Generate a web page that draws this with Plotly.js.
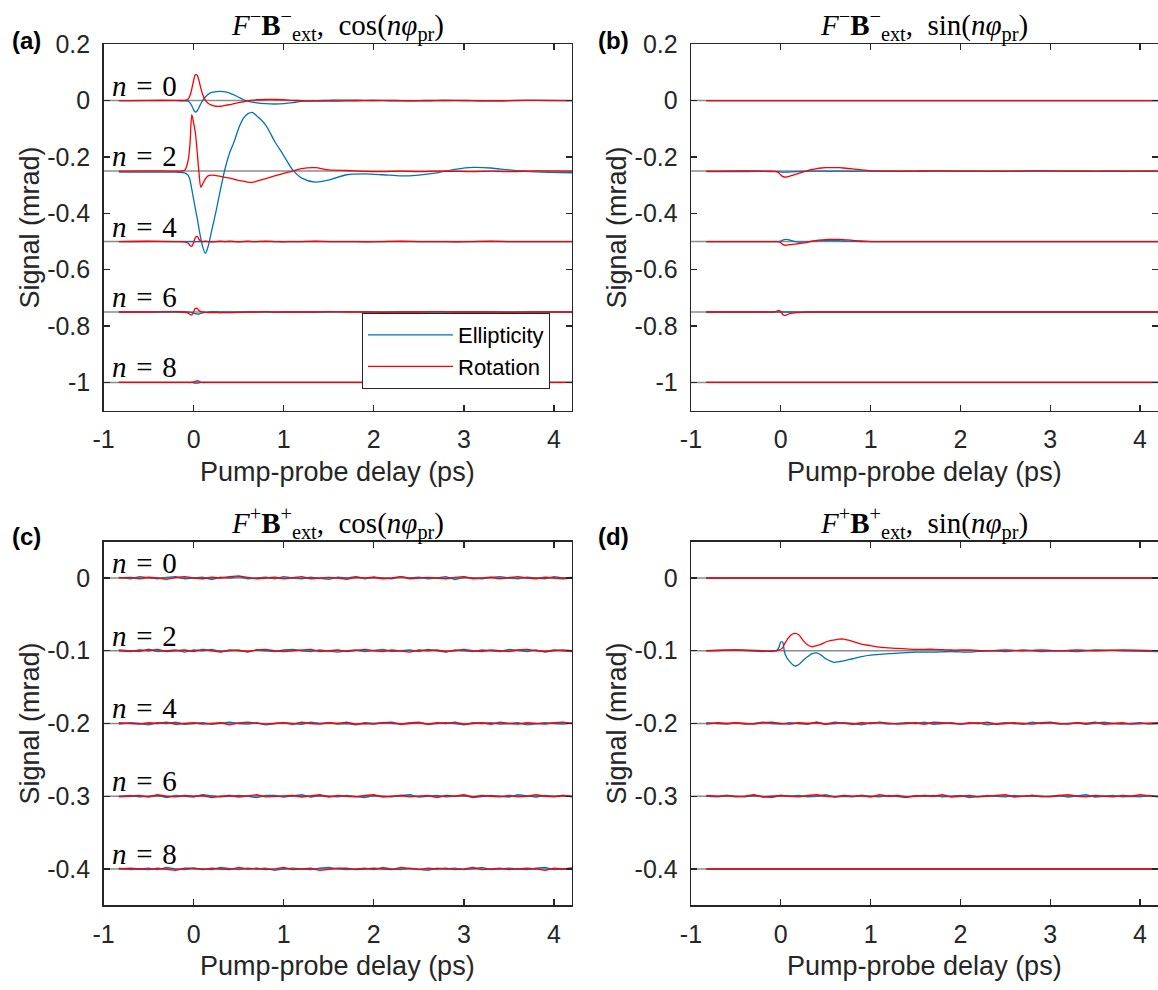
<!DOCTYPE html>
<html>
<head>
<meta charset="utf-8">
<script src="https://cdn.plot.ly/plotly-3.0.1.min.js"></script>
<style>html,body{margin:0;padding:0;background:#fff;}#chart{width:1158px;height:990px;}</style>
</head>
<body>
<div id="chart"></div>
<script>
// ---------- axes / labels ----------
const XRANGE = [-1, 4.2];
const xTickVals = [-1, 0, 1, 2, 3, 4];
const xTickText = ['-1', '0', '1', '2', '3', '4'];
const yTickValsTop = [0.2, 0, -0.2, -0.4, -0.6, -0.8, -1];
const yTickTextTop = ['0.2', '0', '-0.2', '-0.4', '-0.6', '-0.8', '-1'];
const yTickValsBot = [0, -0.1, -0.2, -0.3, -0.4];
const yTickTextBot = ['0', '-0.1', '-0.2', '-0.3', '-0.4'];
const harmonics = [0, 2, 4, 6, 8];
const offsetsTop = [0, -0.25, -0.5, -0.75, -1];
const offsetsBot = [0, -0.1, -0.2, -0.3, -0.4];

// ---------- time grids (ps) ----------
const T = [-0.83,-0.5,-0.2,-0.1,-0.06,-0.04,-0.02,0,0.02,0.04,
           0.06,0.08,0.1,0.13,0.16,0.2,0.25,0.3,0.35,0.4,
           0.45,0.5,0.55,0.6,0.65,0.7,0.8,0.9,1.0,1.1,
           1.2,1.35,1.5,1.7,1.9,2.1,2.3,2.5,2.7,2.9,
           3.1,3.3,3.5,3.8,4.2];
const TC = [-0.83,-0.7,-0.6,-0.5,-0.4,-0.3,-0.2,-0.1,0,0.1,
            0.2,0.3,0.4,0.5,0.6,0.7,0.8,0.9,1.0,1.1,
            1.2,1.3,1.4,1.5,1.6,1.7,1.8,1.9,2.0,2.1,
            2.2,2.3,2.4,2.5,2.6,2.7,2.8,2.9,3.0,3.1,
            3.2,3.3,3.4,3.5,3.6,3.7,3.8,3.9,4.0,4.1,
            4.2];
const TFLAT = [-0.83, 4.2];
const VFLAT = [0, 0];

// ---------- panel (a): F- B-ext, cos ----------
const a_e0 = [0,0.001,0,-0.001,-0.002,-0.008,-0.018,-0.033,-0.041,-0.036,
  -0.024,-0.011,0,0.013,0.022,0.029,0.032,0.033,0.031,0.027,
  0.02,0.012,0.004,-0.002,-0.005,-0.008,-0.011,-0.012,-0.011,-0.007,
  -0.003,0,0.001,0.002,0.001,0,-0.001,0,0.001,0,
  0,-0.001,0,0.001,0];
const a_r0 = [0,0,0.001,0.001,0.006,0.018,0.042,0.072,0.092,0.09,
  0.07,0.044,0.022,0.002,-0.009,-0.016,-0.02,-0.02,-0.017,-0.014,
  -0.011,-0.007,-0.004,-0.001,0.001,0.003,0.004,0.004,0.003,0.001,
  0,-0.002,-0.002,-0.001,0,0.001,0,-0.001,0,0.001,
  0,-0.001,0,0.001,0];
const a_e2 = [-0.004,-0.004,-0.004,-0.006,-0.015,-0.032,-0.065,-0.1,-0.135,-0.168,
  -0.205,-0.24,-0.268,-0.292,-0.268,-0.212,-0.14,-0.062,0.01,0.065,
  0.105,0.152,0.186,0.203,0.208,0.196,0.163,0.105,0.055,0.004,
  -0.025,-0.039,-0.032,-0.013,-0.01,-0.013,-0.017,-0.014,-0.006,0.006,
  0.013,0.011,0.004,-0.003,-0.006];
const a_r2 = [0,0.001,0,0.003,0.04,0.1,0.2,0.17,0.135,0.065,
  -0.007,-0.057,-0.046,-0.028,-0.017,-0.014,-0.016,-0.019,-0.022,-0.025,
  -0.029,-0.033,-0.036,-0.039,-0.04,-0.036,-0.027,-0.017,-0.008,0,
  0.009,0.012,0.004,0.002,-0.001,-0.002,0,-0.002,0,-0.001,
  -0.002,0,-0.002,0.001,0];
const a_r4 = [0,0.001,0,-0.001,-0.006,-0.014,-0.017,-0.003,0.015,0.018,
  0.008,0.001,0,0.001,0,-0.001,0,0.001,0,0.001,
  0,-0.001,0,0.001,0,0,0.001,0,-0.001,0,
  0,0.001,0,0,-0.001,0,0.001,0,0,-0.001,
  0,0.001,0,0,0];
const a_e6 = [0,0,0,0,0,-0.001,-0.002,-0.004,-0.006,-0.007,
  -0.007,-0.005,-0.003,-0.001,0,0.001,0.001,0,0,0,
  0,0,0.001,0,0,0,0,-0.001,0,0,
  0,0,0,0.001,0,0,0,0,0,0,
  0,0,0,0,0];
const a_r6 = [0,0,0.001,0,-0.004,-0.009,-0.01,0.001,0.013,0.013,
  0.005,0.001,0,-0.001,-0.002,-0.002,-0.002,-0.003,-0.002,-0.002,
  -0.002,-0.001,-0.001,0,0,0,0.001,0,0,0,
  0,0,0.001,0,0,-0.001,0,0,0.001,0,
  0,0,-0.001,0,0];
const a_e8 = [0,0,0,0,0,0,0,-0.001,-0.002,-0.002,
  -0.001,0,0,0,0,0,0,0,0,0,
  0,0,0,0,0,0,0,0,0,0,
  0,0,0,0,0,0,0,0,0,0,
  0,0,0,0,0];
const a_r8 = [0,0,0,0,0,0,0.001,0.002,0.004,0.006,
  0.004,0.001,0,0,0,0,0,0,0,0,
  0,0,0,0,0,0,0,0,0,0,
  0,0,0,0,0,0,0,0,0,0,
  0,0,0,0,0];

// ---------- panel (b): F- B-ext, sin ----------
const b_e2 = [-0.002,-0.002,-0.001,-0.002,-0.002,-0.002,-0.002,-0.003,-0.004,-0.004,
  -0.004,-0.004,-0.003,-0.003,-0.002,-0.002,-0.001,-0.001,0,0,
  0,0,-0.001,0,0,0,-0.001,0,0,0,
  0,0,-0.001,0,0,0,0,-0.001,0,0,
  0,0,0,-0.001,0];
const b_r2 = [0,0.001,0,0,-0.001,-0.003,-0.007,-0.014,-0.019,-0.021,
  -0.021,-0.02,-0.018,-0.015,-0.012,-0.008,-0.003,0.002,0.006,0.009,
  0.011,0.012,0.012,0.012,0.012,0.011,0.008,0.004,0.001,0,
  0,-0.001,0,0.001,0,0,-0.001,0,0,0.001,
  0,0,-0.001,0,0];
const b_e4 = [0,0,0,0,0,0,0,0.002,0.005,0.007,
  0.008,0.007,0.005,0.002,0,-0.002,-0.002,0,0.001,0.002,
  0.003,0.003,0.003,0.003,0.003,0.002,0.001,0,0,0,
  0,0,0,0,0,0,0,0,0,0,
  0,0,0,0,0];
const b_r4 = [0,0,0,0,0,0,-0.001,-0.004,-0.01,-0.013,
  -0.013,-0.012,-0.011,-0.01,-0.009,-0.007,-0.005,-0.002,0.001,0.004,
  0.006,0.007,0.008,0.008,0.008,0.007,0.004,0.002,0,0,
  0,0,0,0,0,0,0,0,0,0,
  0,0,0,0,0];
const b_r6 = [0,0,0,0,0.001,0.004,0.006,0.002,-0.008,-0.012,
  -0.011,-0.008,-0.006,-0.004,-0.003,-0.002,-0.001,0,0,0,
  0,0,0,0,0,0,0,0,0,0,
  0,0,0,0,0,0,0,0,0,0,
  0,0,0,0,0];

// ---------- panel (c): F+ B+ext, cos ----------
const c_e0 = [0.001,-0.001,0.002,0,-0.001,0.001,0.002,-0.001,0,0.001,
  -0.002,0.001,0,0.002,-0.001,0,0.001,-0.001,0.002,0,
  -0.001,0.001,0,-0.002,0.001,0,0.002,-0.001,0.001,0,
  -0.001,0.002,0,0.001,-0.001,0,0.002,-0.002,0.001,0,
  -0.001,0.001,0.002,0,-0.001,0.001,0,-0.001,0.002,0,
  0.001];
const c_r0 = [0,0.001,-0.001,0.001,0,-0.002,0.001,0.002,0,-0.001,
  0.001,0,0.002,0.003,0.001,-0.001,0,0.001,-0.001,0,
  0.002,-0.001,0,0.001,0,-0.002,0.001,0,0.001,-0.001,
  0,0.002,-0.001,0,0.001,0,-0.001,0.001,0.002,-0.001,
  0,0.001,-0.001,0,0.002,0,-0.001,0.001,0,-0.001,
  0];
const c_e2 = [0.001,0,-0.001,0.002,-0.001,0,0.001,-0.002,0.001,0,
  0.002,-0.001,0,0.001,-0.002,0.001,0,-0.001,0.001,0.002,
  0,-0.001,0.001,0,-0.002,0,0.001,-0.001,0,0.002,
  -0.001,0,0.001,-0.001,0.002,0,-0.002,0.001,0,-0.001,
  0.001,0,-0.001,0.002,0,-0.001,0.001,-0.002,0,0.001,
  0];
const c_r2 = [0,-0.001,0.001,0,0.002,-0.001,0,0.001,-0.001,0.002,
  0,-0.002,0.001,0,-0.001,0.001,0.002,0,-0.001,0,
  0.001,0.002,-0.001,0,0.001,-0.001,0,0.002,0,-0.001,
  0.001,0,-0.002,0.001,0,0.001,-0.001,0,0.002,0,
  -0.001,0.001,0,-0.001,0.001,0.002,0,-0.001,0.001,0,
  -0.001];
const c_e4 = [-0.001,0.001,0,-0.002,0.001,0,0.002,-0.001,0,0.001,
  -0.001,0,0.002,0,-0.001,0.001,-0.002,0,0.001,0,
  -0.001,0.002,0,0.001,-0.001,0,-0.002,0.001,0,0.001,
  0,-0.001,0.001,0.002,-0.001,0,0.001,0,-0.002,0.001,
  0,0.001,-0.001,0,0.001,-0.002,0,0.001,0,-0.001,
  0.001];
const c_r4 = [0.001,0,-0.001,0.001,0,0.002,-0.001,0,0.001,-0.001,
  0,0.001,-0.002,0.001,0.002,0,-0.001,0,0.001,-0.001,
  0.002,0,-0.001,0.001,0,0.002,-0.001,0,-0.001,0.001,
  0.002,-0.001,0,0.001,-0.001,0.001,0,0.002,-0.001,0,
  0.001,-0.001,0.002,0,-0.001,0.001,0,-0.001,0.001,0.002,
  0];
const c_e6 = [0,0.001,-0.001,0,0.001,-0.002,0.001,0,-0.001,0.002,
  0.001,-0.001,0,0.001,0,-0.002,0.001,0.001,-0.001,0,
  0.002,-0.001,0.001,0,-0.001,0.001,0,-0.002,0.001,0,
  -0.001,0.001,0.002,-0.001,0,0.001,-0.001,0,0.001,-0.002,
  0,0.001,0,-0.001,0.002,0,-0.001,0.001,0,0.001,
  -0.001];
const c_r6 = [-0.001,0,0.001,-0.001,0.002,0,-0.001,0.001,0,0.001,
  -0.002,0,0.001,-0.001,0,0.002,-0.001,0,0.001,0.001,
  -0.001,0,0.002,-0.001,0.001,0,-0.001,0.001,0.002,-0.001,
  0,0.001,-0.001,0,0.001,-0.002,0.001,0,0.002,-0.001,
  0.001,0,-0.001,0.001,-0.001,0,0.002,0,-0.001,0.001,
  0];
const c_e8 = [0.001,-0.001,0,0.001,-0.001,0.002,0,-0.001,0.001,0,
  -0.001,0.002,0,-0.001,0.001,0,0.001,-0.002,0,0.001,
  0,-0.001,0.001,0.002,0,-0.001,0,0.001,-0.001,0.002,
  0,-0.001,0.001,0,-0.002,0.001,0,0.001,-0.001,0,
  0.002,-0.001,0,0.001,0,-0.001,0.001,0.002,-0.001,0,
  0.001];
const c_r8 = [0,0.001,0,-0.001,0.001,0,-0.002,0.001,0.001,-0.001,
  0.001,0,-0.001,0.002,0,0.001,-0.001,0,0.002,-0.001,
  0,0.001,-0.002,0,0.001,0.001,-0.001,0,0.001,0,
  -0.001,0.002,0,-0.001,0.001,0,0.001,-0.001,0,0.002,
  -0.001,0,0.001,-0.001,0,0.001,0,-0.002,0.001,0,
  0.001];

// ---------- panel (d): F+ B+ext, sin ----------
const d_e2 = [0,0.001,-0.001,0,0,0.001,0.005,0.012,0.012,-0.001,
  -0.008,-0.012,-0.015,-0.019,-0.021,-0.019,-0.013,-0.008,-0.004,-0.003,
  -0.006,-0.011,-0.014,-0.016,-0.015,-0.014,-0.011,-0.008,-0.006,-0.005,
  -0.004,-0.003,-0.002,-0.002,-0.001,-0.002,0,-0.001,0.001,-0.001,
  0,-0.001,0.001,0,-0.001];
const d_r2 = [0,0.001,0,-0.001,0,0,0.001,0.002,0.004,0.009,
  0.013,0.017,0.02,0.023,0.024,0.022,0.014,0.008,0.0055,0.007,
  0.009,0.012,0.014,0.015,0.016,0.016,0.013,0.009,0.007,0.005,
  0.004,0.003,0.002,0.002,0.001,0.001,0,0.001,0,0.001,
  0,0.001,0,0.001,0];
const d_e4 = [0.001,0,-0.001,0.001,-0.001,0,0.002,0,-0.001,0.001,
  0,-0.001,0.002,-0.001,0,0.001,0,-0.002,0.001,0.001,
  -0.001,0,0.001,0,0.002,-0.001,0,0.001,-0.001,0,
  0.001,-0.002,0,0.001,0,-0.001,0.002,0,0.001,-0.001,
  0,0.001,-0.001,0,0.002,0,-0.001,0,0.001,-0.001,
  0];
const d_r4 = [-0.001,0.001,0,0.001,0,-0.001,0.001,0.002,0,-0.001,
  0.001,0,0.001,-0.001,0.002,0,-0.001,0.001,0,0.002,
  0,-0.001,0,0.001,-0.001,0.002,0.001,0,-0.001,0.001,
  0,0.002,-0.001,0,0.001,0,-0.001,0.001,0.002,0,
  -0.001,0.001,0,0.002,-0.001,0,0.001,-0.001,0,0.001,
  0.001];
const d_e6 = [0,-0.001,0.001,0,-0.001,0.001,0,-0.002,0.001,0,
  0.001,-0.001,0,0.002,-0.001,0,-0.001,0.001,0,-0.001,
  0.001,0,-0.002,0.001,0,0.001,-0.001,0,0.001,-0.002,
  0,0.001,0,-0.001,0.001,0,0.001,-0.001,0,0.001,
  -0.001,0,0.002,-0.001,0,0.001,-0.001,0,-0.001,0.001,
  0];
const d_r6 = [0.001,0,0.001,-0.001,0,0.002,-0.001,0,0.001,0,
  -0.001,0.001,0.002,0,-0.001,0.001,0,0.001,-0.001,0.002,
  0,0.001,-0.001,0,0.001,0,0.002,-0.001,0,0.001,
  -0.001,0,0.001,0.002,-0.001,0,0.001,0,-0.001,0.001,
  0.002,0,-0.001,0.001,0,-0.001,0.001,0,0.002,0,
  -0.001];

// ---------- assemble ----------
const BLUE = '#0072BD', RED = '#FF0000', GRAY = '#8c8c8c';
const panels = [
  {xa:'x',  ya:'y',  off:offsetsTop, s:[[T,a_e0,T,a_r0],[T,a_e2,T,a_r2],[TFLAT,VFLAT,T,a_r4],[T,a_e6,T,a_r6],[T,a_e8,T,a_r8]]},
  {xa:'x2', ya:'y2', off:offsetsTop, s:[[TFLAT,VFLAT,TFLAT,VFLAT],[T,b_e2,T,b_r2],[T,b_e4,T,b_r4],[TFLAT,VFLAT,T,b_r6],[TFLAT,VFLAT,TFLAT,VFLAT]]},
  {xa:'x3', ya:'y3', off:offsetsBot, s:[[TC,c_e0,TC,c_r0],[TC,c_e2,TC,c_r2],[TC,c_e4,TC,c_r4],[TC,c_e6,TC,c_r6],[TC,c_e8,TC,c_r8]]},
  {xa:'x4', ya:'y4', off:offsetsBot, s:[[TFLAT,VFLAT,TFLAT,VFLAT],[T,d_e2,T,d_r2],[TC,d_e4,TC,d_r4],[TC,d_e6,TC,d_r6],[TFLAT,VFLAT,TFLAT,VFLAT]]}
];

const traces = [];
panels.forEach(function(p){
  p.off.forEach(function(o){
    traces.push({x:XRANGE, y:[o,o], xaxis:p.xa, yaxis:p.ya, mode:'lines',
      line:{color:GRAY, width:1.5}, showlegend:false, hoverinfo:'skip'});
  });
});
let legendDone = false;
panels.forEach(function(p){
  p.s.forEach(function(sr, k){
    const o = p.off[k];
    const first = !legendDone;
    const shapeE = (sr[0] === T) ? 'spline' : 'linear';
    const shapeR = (sr[2] === T) ? 'spline' : 'linear';
    traces.push({x:sr[0].slice(0, sr[1].length), y:sr[1].map(function(v){return v + o;}),
      xaxis:p.xa, yaxis:p.ya, mode:'lines', name:'Ellipticity', legendgroup:'e',
      line:{color:BLUE, width:1.3, shape:shapeE, smoothing:0.8}, showlegend:first});
    traces.push({x:sr[2].slice(0, sr[3].length), y:sr[3].map(function(v){return v + o;}),
      xaxis:p.xa, yaxis:p.ya, mode:'lines', name:'Rotation', legendgroup:'r',
      line:{color:RED, width:1.3, shape:shapeR, smoothing:0.8}, showlegend:first});
    legendDone = true;
  });
});

const SANS = 'Liberation Sans, Arial, Helvetica, sans-serif';
const SERIF = 'Liberation Serif, Times New Roman, serif';
const AX = '#262626';
function xAxis(dom, anchor){
  return {domain:dom, anchor:anchor, range:XRANGE, tickvals:xTickVals, ticktext:xTickText,
    ticks:'inside', ticklen:6, tickwidth:1.3, tickcolor:AX, showline:true, linecolor:AX, linewidth:1.3,
    mirror:'ticks', showgrid:false, zeroline:false, automargin:false, ticklabelstandoff:6,
    tickfont:{family:SANS, size:25, color:AX}};
}
function yAxis(dom, anchor, rng, tv, tt){
  return {domain:dom, anchor:anchor, range:rng, tickvals:tv, ticktext:tt,
    ticks:'inside', ticklen:6, tickwidth:1.3, tickcolor:AX, showline:true, linecolor:AX, linewidth:1.3,
    mirror:'ticks', showgrid:false, zeroline:false, automargin:false, ticklabelstandoff:7,
    tickfont:{family:SANS, size:25, color:AX}};
}
const XL = [0.0894, 0.4940], XR = [0.5967, 1.0];
const YT = [0.5852, 0.9553], YB = [0.0855, 0.4529];

const titleCos = '<i>F</i><sup>\u2212</sup><b>B</b><sup>\u2212</sup><sub>ext</sub>,\u2002cos(<i>n\u03c6</i><sub>pr</sub>)';
const titleSin = '<i>F</i><sup>\u2212</sup><b>B</b><sup>\u2212</sup><sub>ext</sub>,\u2002sin(<i>n\u03c6</i><sub>pr</sub>)';
const titleCosP = '<i>F</i><sup>+</sup><b>B</b><sup>+</sup><sub>ext</sub>,\u2002cos(<i>n\u03c6</i><sub>pr</sub>)';
const titleSinP = '<i>F</i><sup>+</sup><b>B</b><sup>+</sup><sub>ext</sub>,\u2002sin(<i>n\u03c6</i><sub>pr</sub>)';
const panelTitles = [titleCos, titleSin, titleCosP, titleSinP];
const panelLetters = ['(a)', '(b)', '(c)', '(d)'];

const ann = [];
const cols = [XL, XR], rows = [YT, YB];
const titleY = [1 - 25/990, 1 - 523/990];
const letterY = [1 - 40/990, 1 - 536/990];
const letterX = [10/1158, 596/1158];
const xTitleY = [1 - 472/990, 1 - 966/990];
const yTitleX = [30/1158, 617/1158];
for (let r = 0; r < 2; r++) {
  for (let c = 0; c < 2; c++) {
    const i = r*2 + c;
    const cx = (cols[c][0] + cols[c][1]) / 2;
    const cy = (rows[r][0] + rows[r][1]) / 2;
    ann.push({xref:'paper', yref:'paper', x:cx, y:titleY[r], xanchor:'center', yanchor:'middle',
      text:panelTitles[i], showarrow:false, font:{family:SERIF, size:29, color:'#000'}});
    ann.push({xref:'paper', yref:'paper', x:letterX[c], y:letterY[r], xanchor:'left', yanchor:'middle',
      text:'<b>' + panelLetters[i] + '</b>', showarrow:false, font:{family:SANS, size:24, color:'#000'}});
    ann.push({xref:'paper', yref:'paper', x:cx, y:xTitleY[r], xanchor:'center', yanchor:'middle',
      text:'Pump-probe delay (ps)', showarrow:false, font:{family:SANS, size:27, color:AX}});
    ann.push({xref:'paper', yref:'paper', x:yTitleX[c], y:cy, xanchor:'center', yanchor:'middle', textangle:-90,
      text:'Signal (mrad)', showarrow:false, font:{family:SANS, size:27, color:AX}});
  }
}
// harmonic labels in (a) and (c)
[['x','y',offsetsTop],['x3','y3',offsetsBot]].forEach(function(q){
  harmonics.forEach(function(h, k){
    ann.push({xref:q[0], yref:q[1], x:-0.93, y:q[2][k], yshift:15, xanchor:'left', yanchor:'middle',
      text:'<i>n</i>\u2004=\u2004' + h, showarrow:false, font:{family:SERIF, size:29, color:'#000'}});
  });
});

const layout = {
  width:1158, height:990, margin:{l:0, r:0, t:0, b:0}, paper_bgcolor:'#fff', plot_bgcolor:'#fff',
  showlegend:true,
  legend:{x:550/1158, xanchor:'right', y:1 - 389/990, yanchor:'bottom', bgcolor:'#fff',
    bordercolor:AX, borderwidth:1, font:{family:SANS, size:22, color:'#000'}, itemwidth:85, tracegroupgap:0},
  xaxis:xAxis(XL,'y'), xaxis2:xAxis(XR,'y2'), xaxis3:xAxis(XL,'y3'), xaxis4:xAxis(XR,'y4'),
  yaxis:yAxis(YT,'x',[-1.1,0.2],yTickValsTop,yTickTextTop),
  yaxis2:yAxis(YT,'x2',[-1.1,0.2],yTickValsTop,yTickTextTop),
  yaxis3:yAxis(YB,'x3',[-0.45,0.05],yTickValsBot,yTickTextBot),
  yaxis4:yAxis(YB,'x4',[-0.45,0.05],yTickValsBot,yTickTextBot),
  annotations:ann
};
Plotly.newPlot('chart', traces, layout, {displayModeBar:false, staticPlot:true});
</script>
</body>
</html>
